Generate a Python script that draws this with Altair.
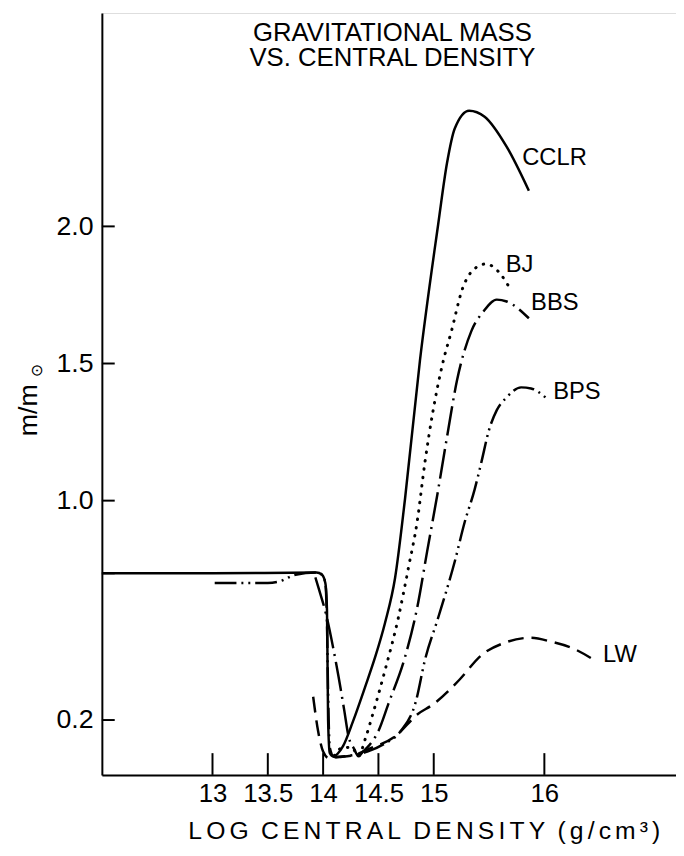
import altair as alt
import pandas as pd

# ---------------- data ----------------
cclr_x = [12.0, 13.0, 13.94, 13.99, 14.02, 14.035, 14.04, 14.045, 14.06, 14.09, 14.18, 14.27,
          14.38, 14.47, 14.56, 14.65, 14.74, 14.875, 15.04, 15.12, 15.19, 15.32,
          15.46, 15.66, 15.86]
cclr_y = [0.735, 0.735, 0.738, 0.73, 0.70, 0.60, 0.40, 0.20, 0.08, 0.068, 0.105, 0.195,
          0.321, 0.429, 0.555, 0.717, 1.005, 1.51, 2.007, 2.231, 2.357, 2.422,
          2.40, 2.29, 2.13]

bj_x = [14.1, 14.18, 14.26, 14.32, 14.38, 14.45, 14.56, 14.68, 14.77, 14.85, 14.92, 14.99,
        15.08, 15.16, 15.26, 15.34, 15.47, 15.61, 15.68]
bj_y = [0.07, 0.10, 0.10, 0.068, 0.13, 0.223, 0.382, 0.573, 0.753, 0.923, 1.139, 1.319,
        1.499, 1.618, 1.773, 1.834, 1.863, 1.823, 1.78]

bbs_x = [13.93, 13.96, 14.03, 14.09, 14.14, 14.19, 14.23, 14.28, 14.32, 14.36, 14.41, 14.5,
         14.59, 14.74, 14.85, 14.94, 15.03, 15.12, 15.21, 15.34, 15.45, 15.57, 15.66, 15.86]
bbs_y = [0.72, 0.68, 0.58, 0.465, 0.357, 0.238, 0.14, 0.095, 0.068, 0.085, 0.105, 0.16,
         0.259, 0.429, 0.609, 0.814, 1.016, 1.232, 1.438, 1.618, 1.69, 1.733, 1.726, 1.665]

bps_x = [13.02, 13.5, 13.6, 13.75, 13.94, 13.99, 14.02, 14.035, 14.045, 14.06, 14.1, 14.2,
         14.4, 14.56, 14.7, 14.84, 14.92, 15.04, 15.19, 15.28, 15.37, 15.43, 15.5, 15.57,
         15.66, 15.79, 15.88, 16.02]
bps_y = [0.70, 0.70, 0.705, 0.73, 0.738, 0.73, 0.70, 0.55, 0.30, 0.10, 0.065, 0.068,
         0.085, 0.115, 0.159, 0.27, 0.418, 0.573, 0.778, 0.922, 1.041, 1.139, 1.258, 1.33,
         1.377, 1.413, 1.409, 1.373]

lw_x = [13.91, 13.955, 14.0, 14.05, 14.15, 14.3, 14.41, 14.65, 14.86, 14.99, 15.23, 15.43,
        15.65, 15.875, 16.06, 16.26, 16.48]
lw_y = [0.285, 0.159, 0.085, 0.062, 0.065, 0.075, 0.094, 0.14, 0.223, 0.256, 0.346, 0.436,
        0.483, 0.50, 0.486, 0.461, 0.411]

label_names = ["CCLR", "BJ", "BBS", "BPS", "LW"]
label_x = [15.8, 15.65, 15.88, 16.08, 16.53]
label_y = [2.25, 1.86, 1.72, 1.395, 0.436]

x_tick_values = [13, 13.5, 14, 14.5, 15, 16]
y_label_values = [0.2, 1.0, 1.5, 2.0]
y_tick_values = [0.2, 0.735, 1.0, 1.5, 2.0]

title_lines = ["GRAVITATIONAL MASS", "VS. CENTRAL DENSITY"]
x_title_words = ["LOG", "CENTRAL", "DENSITY", "(g/cm³)"]

# ---------------- build ----------------
FONT = "Liberation Sans, Arial, DejaVu Sans"
W, H = 581, 771

xs = alt.Scale(domain=[12, 17.19], nice=False, zero=False)
ys = alt.Scale(domain=[0, 2.778], nice=False, zero=False)

HS = "\u200a\u200a"
x_title = "\u2002".join(HS.join(list(w)) for w in x_title_words)

x_axis = alt.Axis(values=x_tick_values, labelExpr="datum.value", ticks=False, grid=False,
                  labelFontSize=26, labelPadding=6, labelFont=FONT, labelColor="black",
                  title=x_title, titleFontSize=25, titleFont=FONT, titleFontWeight="normal",
                  titleColor="black", titleX=87, titleAlign="left", titlePadding=12,
                  domainColor="black", domainWidth=2, labelFlush=False)
y_axis = alt.Axis(values=y_label_values, format=".1f", ticks=False, grid=False,
                  labelFontSize=27, labelPadding=9, labelFont=FONT, labelColor="black",
                  title=None, domainColor="black", domainWidth=2)

def sdf(name, xv, yv):
    return pd.DataFrame({"series": name, "rho": xv, "mass": yv, "i": list(range(len(xv)))})

df = pd.concat([sdf("CCLR", cclr_x, cclr_y), sdf("BJ", bj_x, bj_y), sdf("BBS", bbs_x, bbs_y),
                sdf("BPS", bps_x, bps_y), sdf("LW", lw_x, lw_y)], ignore_index=True)

base = alt.Chart(df).encode(
    x=alt.X("rho:Q", scale=xs, axis=x_axis),
    y=alt.Y("mass:Q", scale=ys, axis=y_axis),
    order=alt.Order("i:Q"),
)

styles = {
    "CCLR": dict(),
    "BJ": dict(strokeDash=[0.5, 8], strokeCap="round", strokeWidth=3),
    "BBS": dict(strokeDash=[30, 6, 2, 6]),
    "BPS": dict(strokeDash=[22, 5, 2, 5, 2, 5]),
    "LW": dict(strokeDash=[16, 8]),
}
layers = []
for name, st in styles.items():
    kw = dict(color="black", strokeWidth=2.5, interpolate="monotone")
    kw.update(st)
    layers.append(base.transform_filter(alt.datum.series == name).mark_line(**kw))

ytick = alt.Chart(pd.DataFrame({"mass": y_tick_values})).mark_rule(
    color="black", strokeWidth=2).encode(
    y=alt.Y("mass:Q", scale=ys, axis=y_axis), x=alt.value(0), x2=alt.value(13))
xtick = alt.Chart(pd.DataFrame({"rho": x_tick_values})).mark_rule(
    color="black", strokeWidth=2).encode(
    x=alt.X("rho:Q", scale=xs, axis=x_axis), y=alt.value(H), y2=alt.value(H - 22))

labels = alt.Chart(pd.DataFrame({"name": label_names, "rho": label_x, "mass": label_y})).mark_text(
    align="left", baseline="middle", fontSize=24, font=FONT, color="black").encode(
    x=alt.X("rho:Q", scale=xs, axis=x_axis), y=alt.Y("mass:Q", scale=ys, axis=y_axis),
    text="name:N")

one = pd.DataFrame({"a": [0]})
title = alt.Chart(one).mark_text(
    text=title_lines, align="center", baseline="top", fontSize=26, lineHeight=26,
    font=FONT, color="black").encode(x=alt.value(294), y=alt.value(7))

ylab1 = alt.Chart(one).mark_text(
    text="m/m", angle=270, align="center", baseline="middle", fontSize=27,
    font=FONT, color="black").encode(x=alt.value(-74), y=alt.value(402))
ylab2 = alt.Chart(one).mark_text(
    text="⊙", angle=270, align="center", baseline="middle", fontSize=16,
    font="DejaVu Sans", color="black").encode(x=alt.value(-66), y=alt.value(362))

chart = alt.layer(*layers, ytick, xtick, labels, title, ylab1, ylab2).properties(
    width=W, height=H,
    padding={"left": 95, "top": 0, "right": 0, "bottom": 77},
    autosize=alt.AutoSizeParams(type="none"),
).configure_view(stroke="black", strokeWidth=2).configure(background="white")

chart.save("out.html", embed_options={"renderer": "svg", "actions": False})
